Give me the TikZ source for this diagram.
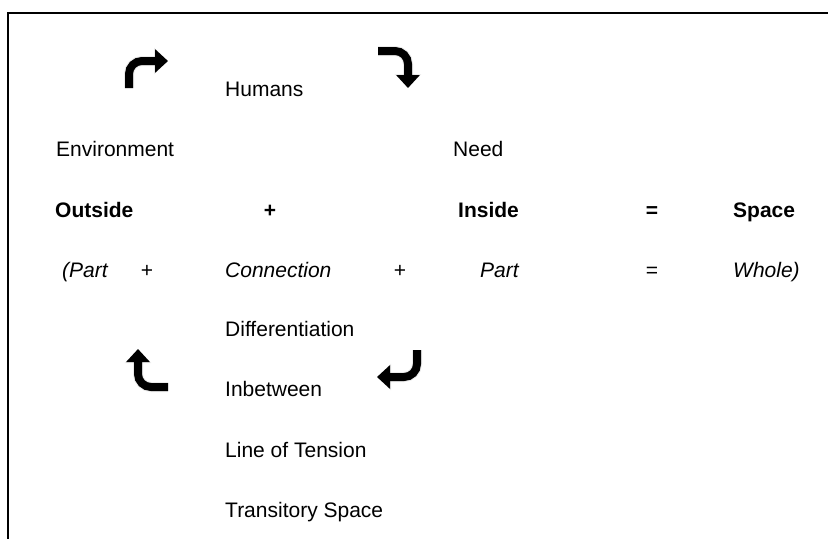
\documentclass[tikz,border=0pt]{standalone}
\usepackage{fontspec}
\setmainfont{Liberation Sans}
\usetikzlibrary{arrows.meta}
\tikzset{
  lbl/.style={anchor=base west, inner sep=0pt, font=\fontsize{21}{25}\selectfont},
  sym/.style={anchor=base, inner sep=0pt, font=\fontsize{21}{25}\selectfont},
  bentarrow/.style={line width=8pt, rounded corners=13pt, -{Triangle[length=13pt,width=23pt]}},
  shadowarrow/.style={line width=10pt, rounded corners=13pt, draw=black, opacity=0.08, -{Triangle[length=14pt,width=26pt]}},
  frameline/.style={line width=2pt}
}
\begin{document}
\begin{tikzpicture}[x=1pt,y=-1pt]
\useasboundingbox (0,0) rectangle (828,539);
% frame
\coordinate (fr) at (828,13);
\coordinate (fc) at (8,13);
\coordinate (fb) at (8,539);
\draw[frameline] (fr) -- (fc) -- (fb);

% text
\node[lbl] (humans) at (225,96) {Humans};
\node[lbl] (env) at (56,156) {Environment};
\node[lbl] (need) at (453,156) {Need};
\node[lbl,font=\fontsize{21}{25}\selectfont\bfseries] (outside) at (55,217) {Outside};
\node[sym,font=\fontsize{21}{25}\selectfont\bfseries] (plus1) at (270,217) {+};
\node[lbl,font=\fontsize{21}{25}\selectfont\bfseries] (inside) at (458,217) {Inside};
\node[sym,font=\fontsize{21}{25}\selectfont\bfseries] (eq1) at (652,217) {=};
\node[lbl,font=\fontsize{21}{25}\selectfont\bfseries] (space) at (733,217) {Space};
\node[lbl,font=\fontsize{21}{25}\selectfont\itshape] (part1) at (62,277) {(Part};
\node[sym] (plus2) at (147,277) {+};
\node[lbl,font=\fontsize{21}{25}\selectfont\itshape] (conn) at (225,277) {Connection};
\node[sym] (plus3) at (400,277) {+};
\node[lbl,font=\fontsize{21}{25}\selectfont\itshape] (part2) at (480,277) {Part};
\node[sym] (eq2) at (652,277) {=};
\node[lbl,font=\fontsize{21}{25}\selectfont\itshape] (whole) at (733,277) {Whole)};
\node[lbl] (diff) at (225,336) {Differentiation};
\node[lbl] (inb) at (225,396) {Inbetween};
\node[lbl] (lot) at (225,457) {Line of Tension};
\node[lbl] (trans) at (225,517) {Transitory Space};

% arrows: shadows
\coordinate (a1s) at (129,88);  \coordinate (a1e) at (168,61);
\coordinate (a2s) at (378,51);  \coordinate (a2e) at (408,88);
\coordinate (a3s) at (168,387); \coordinate (a3e) at (138,349);
\coordinate (a4s) at (417,350); \coordinate (a4e) at (377,377);
\begin{scope}[shift={(3,5)}]
\draw[shadowarrow] (a1s) |- (a1e);
\draw[shadowarrow] (a2s) -| (a2e);
\draw[shadowarrow] (a3s) -| (a3e);
\draw[shadowarrow] (a4s) |- (a4e);
\end{scope}
\draw[bentarrow] (a1s) |- (a1e);
\draw[bentarrow] (a2s) -| (a2e);
\draw[bentarrow] (a3s) -| (a3e);
\draw[bentarrow] (a4s) |- (a4e);
\end{tikzpicture}
\end{document}
